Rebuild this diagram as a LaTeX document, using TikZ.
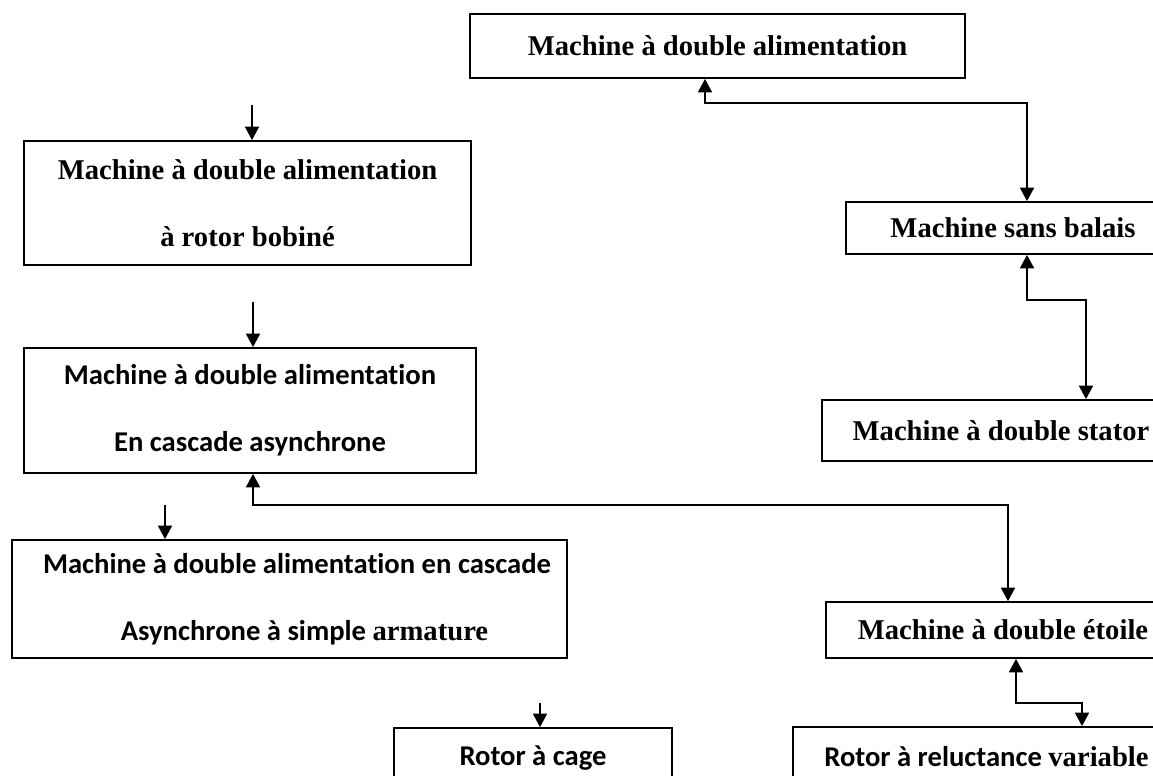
\documentclass[tikz,border=0pt]{standalone}
\usepackage{fontspec}
\setmainfont{Liberation Serif}
\newfontfamily\calfont[Ligatures=NoCommon]{Carlito}
\usetikzlibrary{arrows.meta}

\begin{document}
\begin{tikzpicture}[x=0.02cm, y=-0.02cm,
    box/.style={draw, line width=1pt, inner sep=0pt, align=center,
        font=\fontsize{16.3}{38}\selectfont\bfseries},
    calbox/.style={box, font=\fontsize{16.3}{38}\selectfont\calfont\bfseries},
    link/.style={line width=1pt, {Triangle[length=0.27cm,width=0.28cm]}-{Triangle[length=0.27cm,width=0.28cm]}},
    feed/.style={line width=1pt, -{Triangle[length=0.27cm,width=0.28cm]}}]
    \useasboundingbox (0, 0) rectangle (1153, 776);
    \clip (0, 0) rectangle (1153, 776);

    % right column
    \node[box, minimum width=9.9cm, minimum height=1.28cm] (mda) at (717.5, 46) {Machine à double alimentation};
    \node[box, minimum width=6.68cm, minimum height=1.04cm] (msb) at (1013, 228) {Machine sans balais};
    \node[box, minimum width=7.16cm, minimum height=1.22cm] (mds) at (1001, 430.5) {Machine à double stator};
    \node[box, minimum width=7.08cm, minimum height=1.12cm] (mde) at (1003, 630) {Machine à double étoile};
    \node[calbox, minimum width=7.74cm, minimum height=1.2cm] (rrv) at (986.5, 757) {Rotor à reluctance {\rmfamily variable}};

    % left column
    \node[box, minimum width=8.94cm, minimum height=2.48cm] (mrb) at (247.5, 203) {Machine à double alimentation\\à rotor bobiné};
    \node[calbox, minimum width=9.04cm, minimum height=2.5cm] (mca) at (250, 410.5) {Machine à double alimentation\\En cascade asynchrone};
    \node[calbox, minimum width=11.1cm, minimum height=2.36cm] (msa) at (289.5, 599) {\hspace{0.3cm}Machine à double alimentation en cascade\\\hspace{0.6cm}Asynchrone à simple {\rmfamily armature}};
    \node[calbox, minimum width=5.56cm, minimum height=1.2cm] (rac) at (533, 758) {Rotor à cage};

    % elbows and free ends
    \coordinate (k1) at (705, 103);
    \coordinate (k2) at (1027, 103);
    \coordinate (k3) at (1027, 300);
    \coordinate (k4) at (1086, 300);
    \coordinate (k5) at (253, 505);
    \coordinate (k6) at (1008, 505);
    \coordinate (k7) at (1016, 703);
    \coordinate (k8) at (1082, 703);
    \coordinate (s1) at (252, 105);
    \coordinate (s2) at (253, 302);
    \coordinate (s3) at (165, 505);
    \coordinate (s4) at (540, 703);

    \draw[link] (mda.south -| k1) -- (k1) -- (k2) -- (msb.north -| k2);
    \draw[link] (msb.south -| k3) -- (k3) -- (k4) -- (mds.north -| k4);
    \draw[link] (mca.south -| k5) -- (k5) -- (k6) -- (mde.north -| k6);
    \draw[link] (mde.south -| k7) -- (k7) -- (k8) -- (rrv.north -| k8);

    \draw[feed] (s1) -- (mrb.north -| s1);
    \draw[feed] (s2) -- (mca.north -| s2);
    \draw[feed] (s3) -- (msa.north -| s3);
    \draw[feed] (s4) -- (rac.north -| s4);
\end{tikzpicture}
\end{document}
